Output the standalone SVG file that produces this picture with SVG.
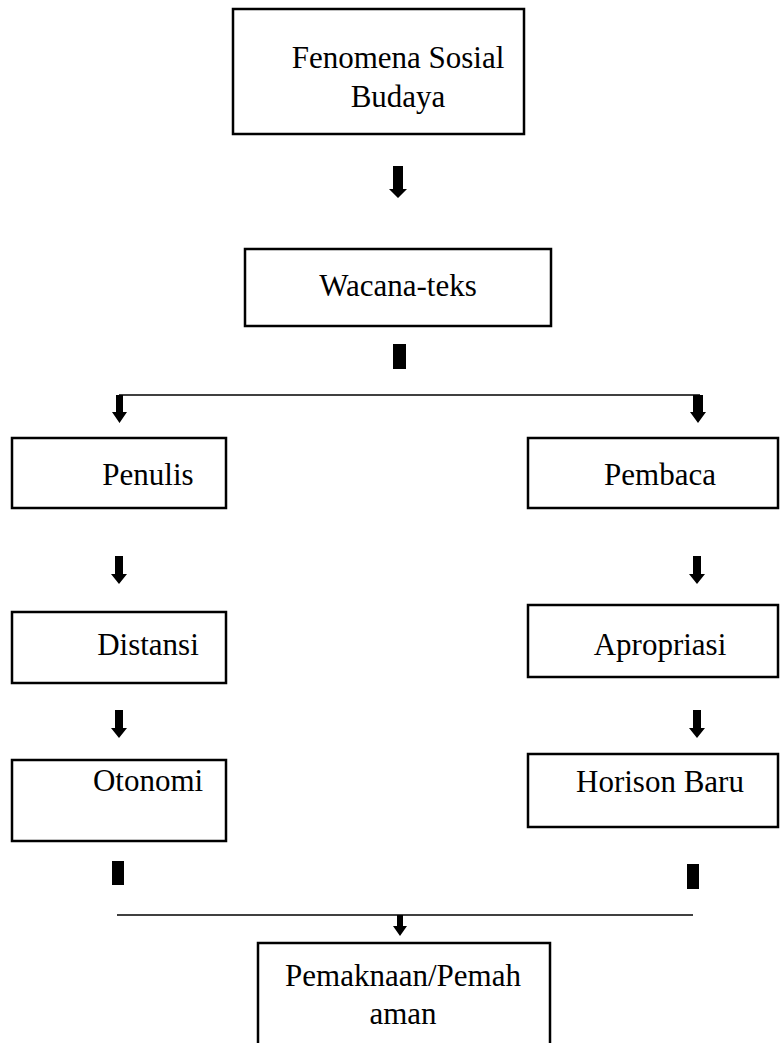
<svg xmlns="http://www.w3.org/2000/svg" width="782" height="1043" viewBox="0 0 782 1043">
<style>
.box{fill:#fff;stroke:#000;stroke-width:2.5}
.t{font-family:"Liberation Serif","Times New Roman",serif;font-size:31px;fill:#000;text-anchor:middle}
.ln{stroke:#000;stroke-width:1.5;fill:none}
.ar{fill:#000}
</style>
<rect width="782" height="1043" fill="#fff"/>
<g id="connectors">
<path class="ar" d="M393,166 H403 V189 H407 L398,198 L389,189 H393 Z"/>
<rect class="ar" x="393" y="344" width="13" height="25"/>
<line class="ln" x1="119" y1="395" x2="700" y2="395"/>
<path class="ar" d="M116,395 H123 V412 H127 L119.5,423 L112,412 H116 Z"/>
<path class="ar" d="M693,395 H703 V412 H706 L698,423 L690,412 H693 Z"/>
<path class="ar" d="M115,556 H123 V574 H127 L119,584 L111,574 H115 Z"/>
<path class="ar" d="M693,556 H701 V574 H705 L697,584 L689,574 H693 Z"/>
<path class="ar" d="M115,710 H123 V728 H127 L119,738 L111,728 H115 Z"/>
<path class="ar" d="M693,710 H701 V728 H705 L697,738 L689,728 H693 Z"/>
<rect class="ar" x="112" y="861" width="12" height="24"/>
<rect class="ar" x="687" y="864" width="12" height="25"/>
<line class="ln" x1="117" y1="915" x2="693" y2="915"/>
<path class="ar" d="M397,915 H403 V926 H407 L400,936 L393,926 H397 Z"/>
</g>
<g id="n1"><rect class="box" x="233" y="9" width="291" height="125"/>
<text class="t" x="398" y="68">Fenomena Sosial</text><text class="t" x="398" y="107">Budaya</text></g>
<g id="n2"><rect class="box" x="245" y="249" width="306" height="77"/>
<text class="t" x="398" y="296">Wacana-teks</text></g>
<g id="n3"><rect class="box" x="12" y="438" width="214" height="70"/>
<text class="t" x="148" y="485">Penulis</text></g>
<g id="n4"><rect class="box" x="528" y="438" width="250" height="70"/>
<text class="t" x="660" y="485">Pembaca</text></g>
<g id="n5"><rect class="box" x="12" y="612" width="214" height="71"/>
<text class="t" x="148" y="655">Distansi</text></g>
<g id="n6"><rect class="box" x="528" y="605" width="250" height="72"/>
<text class="t" x="660" y="655">Apropriasi</text></g>
<g id="n7"><rect class="box" x="12" y="760" width="214" height="81"/>
<text class="t" x="148" y="791">Otonomi</text></g>
<g id="n8"><rect class="box" x="528" y="754" width="250" height="73"/>
<text class="t" x="660" y="792">Horison Baru</text></g>
<g id="n9"><rect class="box" x="258" y="943" width="292" height="110"/>
<text class="t" x="403" y="986">Pemaknaan/Pemah</text><text class="t" x="403" y="1024">aman</text></g>
</svg>
